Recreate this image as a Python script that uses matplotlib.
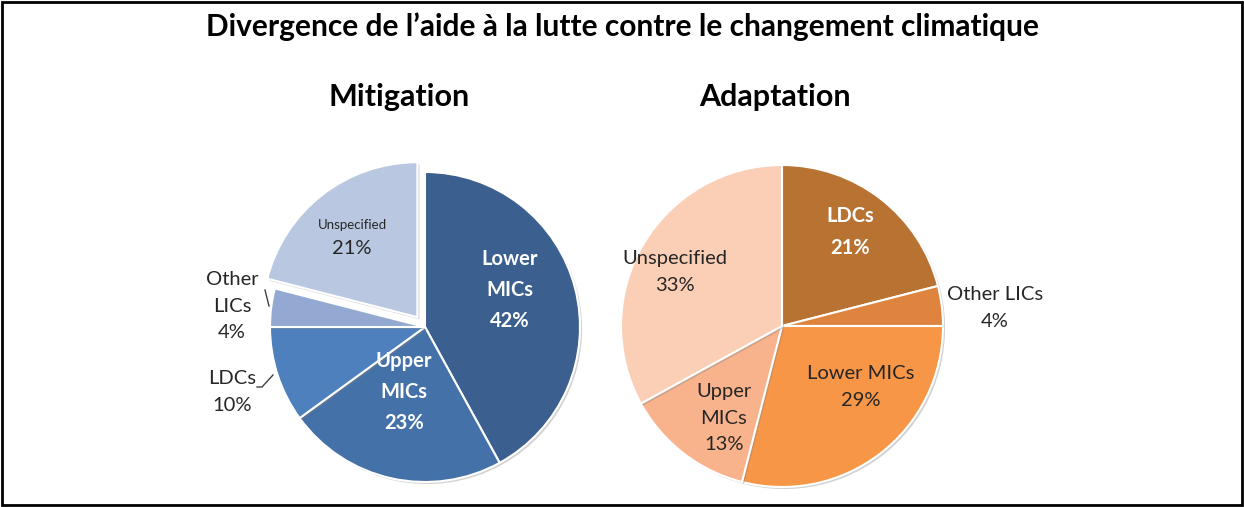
import matplotlib.pyplot as plt
import matplotlib.patheffects as pe
from matplotlib.patches import Rectangle

plt.rcParams['font.family'] = ['Lato', 'DejaVu Sans']

# data
mit_labels = ['Lower\nMICs', 'Upper\nMICs', 'LDCs', 'Other\nLICs', 'Unspecified']
mit_values = [42, 23, 10, 4, 21]
mit_colors = ['#3B5F8E', '#4571A9', '#4E80BD', '#93A9D1', '#B9C7E1']
mit_explode = [0, 0, 0, 0, 0.08]

ada_labels = ['LDCs', 'Other LICs', 'Lower MICs', 'Upper\nMICs', 'Unspecified']
ada_values = [21, 4, 29, 13, 33]
ada_colors = ['#B87333', '#DE843E', '#F79646', '#F9B38C', '#FBCFB6']

# label layout: offset from pie centre (pixels), colour, bold
mit_text = [((85, 37), 'white', True), ((-21, -65), 'white', True),
            ((-193, -65), '#262626', False), ((-193, 21), '#262626', False),
            ((-73, 90), '#262626', False)]
ada_text = [((68, 94), 'white', True), ((213, 18), '#262626', False),
            ((79, -61), '#262626', False), ((-58, -92), '#262626', False),
            ((-107, 54), '#262626', False)]

W, H = 1244, 507
fig = plt.figure(figsize=(W / 100, H / 100), dpi=100)
ax = fig.add_axes([0, 0, 1, 1])

shadow = [pe.SimplePatchShadow(offset=(1.5, -1.5), shadow_rgbFace='#808080', alpha=0.35), pe.Normal()]


def draw_pie(values, colors, center, radius, explode=None):
    if explode is not None:
        explode = [e * radius for e in explode]
    wedges, _ = ax.pie(values, colors=colors, startangle=90, counterclock=False,
                       center=center, radius=radius, explode=explode, frame=True,
                       wedgeprops=dict(edgecolor='white', linewidth=1.5))
    for w in wedges:
        w.set_path_effects(shadow)
    return wedges


mc = (425, H - 327)
ac = (782, H - 326)
draw_pie(mit_values, mit_colors, mc, 155, mit_explode)
draw_pie(ada_values, ada_colors, ac, 161)

FS = 14.5
LS = 1.7
for lab, val, ((dx, dy), col, bold) in zip(mit_labels, mit_values, mit_text):
    x, y = mc[0] + dx, mc[1] + dy
    if lab == 'Unspecified':
        ax.text(x, y + 12, lab, ha='center', va='center', fontsize=9.5, color=col)
        ax.text(x, y - 12, f'{val}%', ha='center', va='center', fontsize=FS, color=col)
    else:
        ax.text(x, y, f'{lab}\n{val}%', ha='center', va='center', fontsize=FS,
                color=col, fontweight='bold' if bold else 'normal', linespacing=LS)

for lab, val, ((dx, dy), col, bold) in zip(ada_labels, ada_values, ada_text):
    ax.text(ac[0] + dx, ac[1] + dy, f'{lab}\n{val}%', ha='center', va='center', fontsize=FS,
            color=col, fontweight='bold' if bold else 'normal', linespacing=LS)

# leader lines
ax.plot([mc[0] - 160, mc[0] - 156], [mc[1] + 37, mc[1] + 21], color='#404040', lw=1)
ax.plot([mc[0] - 168, mc[0] - 163, mc[0] - 152], [mc[1] - 60, mc[1] - 60, mc[1] - 48],
        color='#404040', lw=1)

ax.set_xlim(0, W)
ax.set_ylim(0, H)
ax.axis('off')

fig.text(0.5, 1 - 27 / H, 'Divergence de l\u2019aide à la lutte contre le changement climatique',
         ha='center', va='center', fontsize=21.5, fontweight='bold')
fig.text(399 / W, 1 - 97 / H, 'Mitigation', ha='center', va='center', fontsize=22, fontweight='bold')
fig.text(775 / W, 1 - 97 / H, 'Adaptation', ha='center', va='center', fontsize=22, fontweight='bold')

fig.patches.append(Rectangle((0.002, 0.004), 0.996, 0.992, transform=fig.transFigure,
                             fill=False, edgecolor='black', linewidth=2))

fig.savefig('out.png', dpi=100)
